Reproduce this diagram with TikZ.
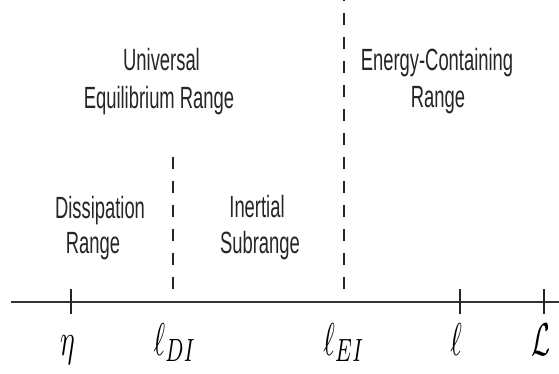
\documentclass[tikz,border=0pt]{standalone}
\usepackage{fontspec}
\setmainfont{Liberation Sans}
\usepackage{graphicx}
\newcommand{\rtxt}[1]{\scalebox{1.84}[3.07]{#1}}
\newcommand{\rmth}[1]{\scalebox{2.76}[4.6]{$#1$}}
\begin{document}
\begin{tikzpicture}[x=1pt,y=-1pt,
  lbl/.style={inner sep=0pt,anchor=base,text=black!85},
  mlbl/.style={inner sep=0pt,anchor=base,text=black},
  axisline/.style={line width=2pt,draw=black!80},
  tickline/.style={line width=1.3pt,draw=black!85},
  divline/.style={line width=1.3pt,draw=black!85,dash pattern=on 12pt off 12pt}]
\useasboundingbox[fill=white] (0,0) rectangle (559,373);
% axis
\coordinate (a0) at (11,302);
\coordinate (a1) at (559,302);
\draw[axisline] (a0) -- (a1);
% ticks
\coordinate (t1a) at (71,289);  \coordinate (t1b) at (71,314);
\coordinate (t4a) at (460,289); \coordinate (t4b) at (460,314);
\coordinate (t5a) at (544,289); \coordinate (t5b) at (544,314);
\draw[tickline] (t1a) -- (t1b);
\draw[tickline] (t4a) -- (t4b);
\draw[tickline] (t5a) -- (t5b);
% dashed dividers
\coordinate (d1a) at (173,289); \coordinate (d1b) at (173,157);
\coordinate (d2a) at (344,289); \coordinate (d2b) at (344,0);
\draw[divline] (d1a) -- (d1b);
\draw[divline] (d2a) -- (d2b);
% range labels
\node[lbl] (u1) at (161.5,70) {\rtxt{Universal}};
\node[lbl] (u2) at (159,108) {\rtxt{Equilibrium Range}};
\node[lbl] (e1) at (437,70) {\rtxt{Energy-Containing}};
\node[lbl] (e2) at (438,107) {\rtxt{Range}};
\node[lbl] (s1) at (100,218) {\rtxt{Dissipation}};
\node[lbl] (s2) at (93,253) {\rtxt{Range}};
\node[lbl] (i1) at (257,217) {\rtxt{Inertial}};
\node[lbl] (i2) at (260,253) {\rtxt{Subrange}};
% axis labels
\node[mlbl] (m1) at (67.5,355) {\rmth{\eta}};
\node[mlbl] (m2) at (175,355) {\rmth{\ell_{DI}}};
\node[mlbl] (m3) at (344,355) {\rmth{\ell_{EI}}};
\node[mlbl] (m4) at (456,355) {\rmth{\ell}};
\node[mlbl] (m5) at (541,355) {\rmth{\mathcal{L}}};
\end{tikzpicture}
\end{document}
